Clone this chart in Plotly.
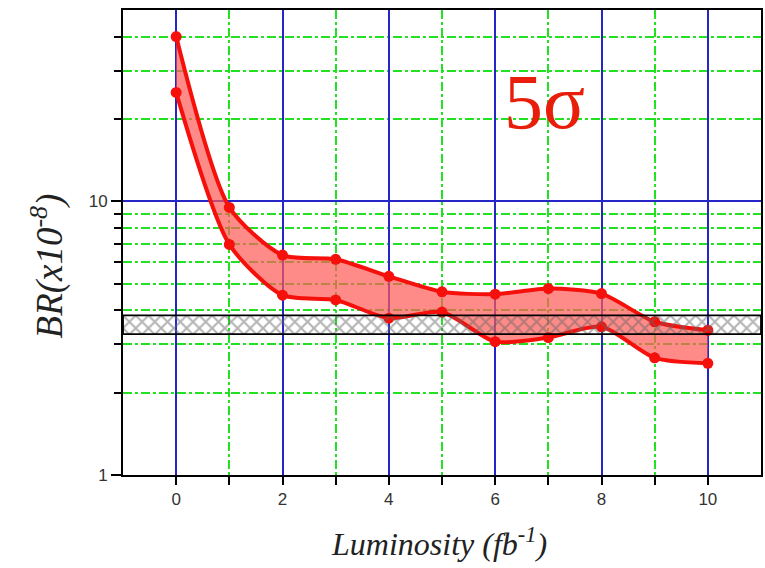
import plotly.graph_objects as go

# Data
lum = [0, 1, 2, 3, 4, 5, 6, 7, 8, 9, 10]
br_upper = [40, 9.5, 6.36, 6.14, 5.32, 4.67, 4.58, 4.8, 4.6, 3.63, 3.38]
br_lower = [25, 6.96, 4.54, 4.36, 3.74, 3.94, 3.07, 3.18, 3.48, 2.68, 2.56]
sm_band_x = [-1, 11]
sm_band_low = 3.27
sm_band_high = 3.83

x_major = [0, 2, 4, 6, 8, 10]
x_minor = [1, 3, 5, 7, 9]
y_major = [1, 10]
y_minor = [2, 3, 4, 5, 6, 7, 8, 9, 20, 30, 40]

RED = "#f5100c"
FILL = "rgba(255,90,85,0.70)"
BLUE = "#2626c8"
GREEN = "#22e022"

fig = go.Figure()

# red 5 sigma band
fig.add_trace(go.Scatter(
    x=lum, y=br_lower, mode="lines+markers",
    line=dict(color=RED, width=4, shape="spline", smoothing=0.7),
    marker=dict(color=RED, size=11),
    showlegend=False,
))
fig.add_trace(go.Scatter(
    x=lum, y=br_upper, mode="lines+markers", fill="tonexty",
    fillcolor=FILL,
    line=dict(color=RED, width=4, shape="spline", smoothing=0.7),
    marker=dict(color=RED, size=11),
    showlegend=False,
))

# hatched SM band (drawn on top, transparent background)
fig.add_trace(go.Scatter(
    x=[sm_band_x[0], sm_band_x[1], sm_band_x[1], sm_band_x[0], sm_band_x[0]],
    y=[sm_band_low, sm_band_low, sm_band_high, sm_band_high, sm_band_low],
    mode="lines", fill="toself",
    line=dict(color="black", width=1.8),
    fillcolor="rgba(0,0,0,0)",
    fillpattern=dict(shape="x", fgcolor="#666666", bgcolor="rgba(255,255,255,0)", size=9, solidity=0.4),
    hoverinfo="skip", showlegend=False,
))

fig.add_annotation(
    x=6.93, y=1.365, xref="x", yref="y", text="5σ", showarrow=False,
    font=dict(family="Liberation Serif", size=78, color="#e81e0a"),
)

fig.add_annotation(
    x=-0.118, y=0.45, xref="paper", yref="paper", xanchor="center", yanchor="middle",
    text="<i>BR(x10<sup>-8</sup>)</i>", textangle=-90, showarrow=False,
    font=dict(family="Liberation Serif", size=37, color="#222222"),
)
fig.add_annotation(
    x=0.495, y=-0.145, xref="paper", yref="paper", xanchor="center", yanchor="middle",
    text="<i>Luminosity (fb<sup>-1</sup>)</i>", showarrow=False,
    font=dict(family="Liberation Serif", size=32, color="#222222"),
)

fig.update_layout(
    width=765, height=568,
    margin=dict(l=123, r=2, t=10, b=93),
    paper_bgcolor="white", plot_bgcolor="white",
    xaxis=dict(
        range=[-1, 11], tickvals=x_major, ticktext=[str(v) for v in x_major],
        showgrid=True, gridcolor=BLUE, gridwidth=1.5,
        ticks="outside", ticklen=8, tickcolor="black", tickwidth=1.5,
        showline=True, linecolor="black", linewidth=2, mirror=True,
        zeroline=False,
        tickfont=dict(family="Liberation Sans", size=17, color="#333333"),
        minor=dict(tickvals=x_minor, showgrid=True, gridcolor=GREEN, griddash="dashdot",
                   gridwidth=1.5, ticks="outside", ticklen=8, tickcolor="black", tickwidth=1.5),
    ),
    yaxis=dict(
        type="log", range=[0, 1.699], tickvals=y_major, ticktext=["1", "10"],
        showgrid=True, gridcolor=BLUE, gridwidth=1.5,
        ticks="outside", ticklen=10, tickcolor="black", tickwidth=1.5,
        showline=True, linecolor="black", linewidth=2, mirror=True,
        zeroline=False,
        tickfont=dict(family="Liberation Sans", size=17, color="#333333"),
        minor=dict(tickvals=y_minor, showgrid=True, gridcolor=GREEN, griddash="dashdot",
                   gridwidth=1.5, ticks="outside", ticklen=7, tickcolor="black", tickwidth=1.5),
    ),
)

fig.write_html("out.html")
